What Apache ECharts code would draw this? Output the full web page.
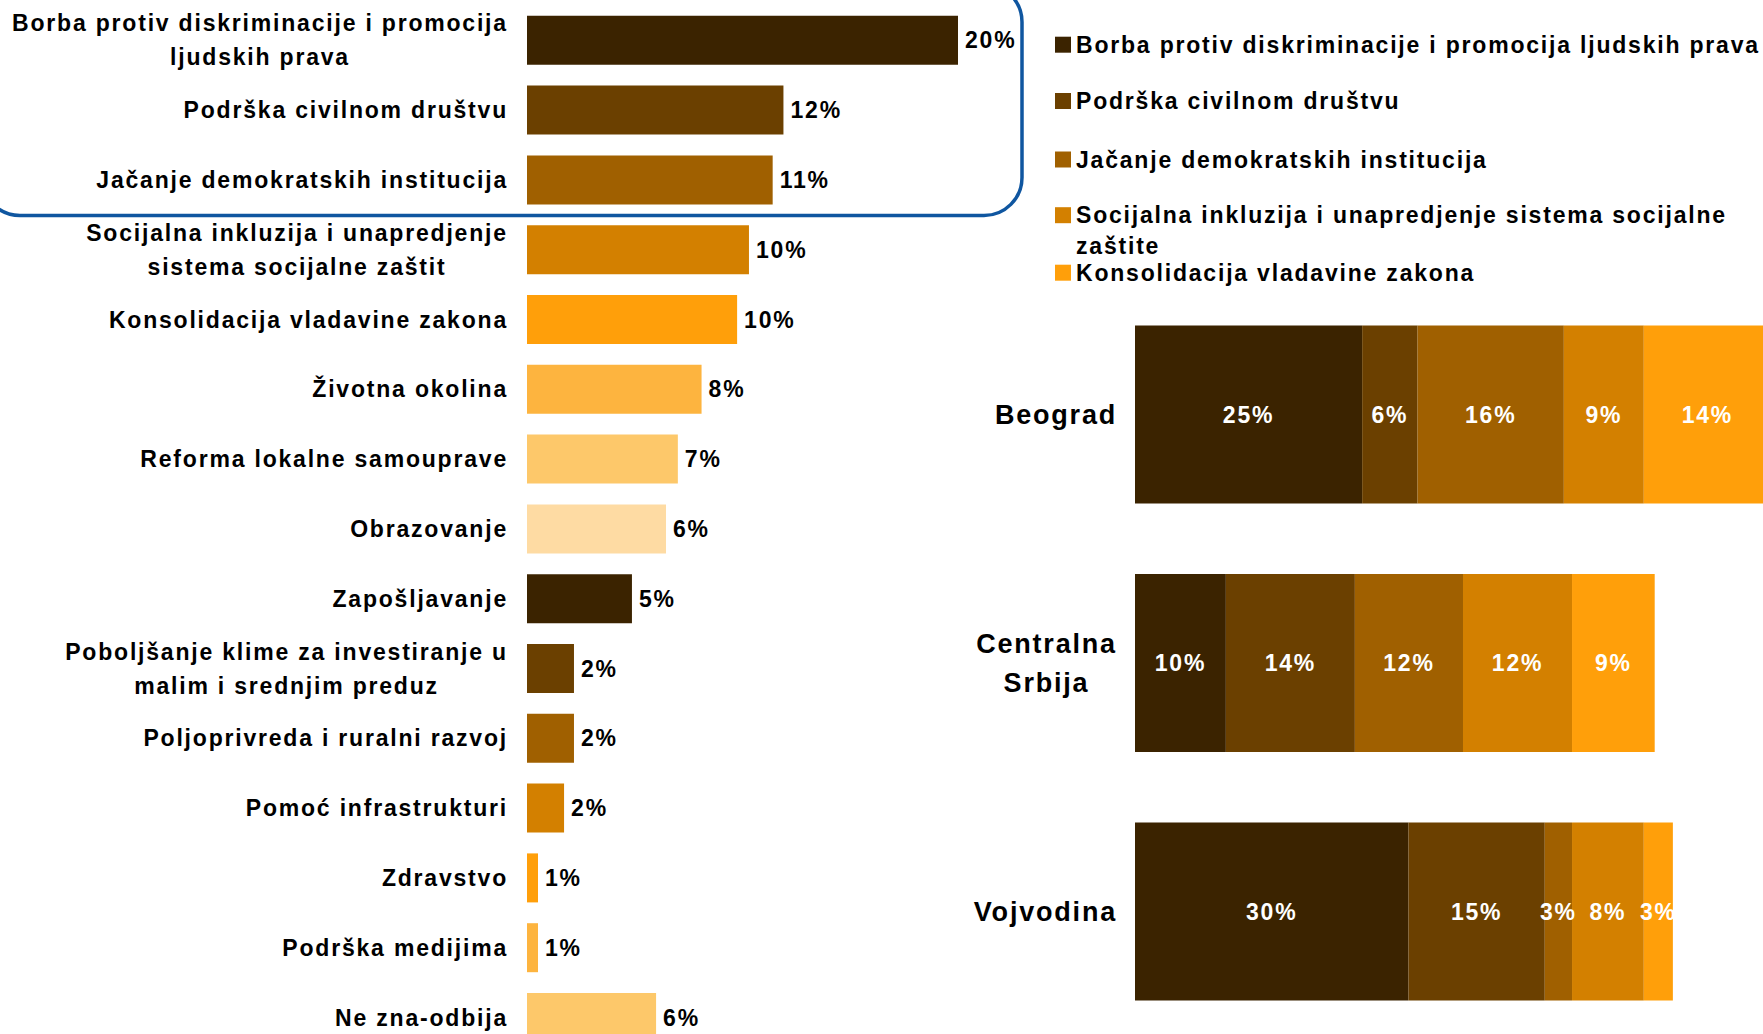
<!DOCTYPE html>
<html>
<head>
<meta charset="utf-8">
<title>Prioriteti</title>
<script src="https://cdn.jsdelivr.net/npm/echarts@6/dist/echarts.min.js"></script>
<style>
  html, body { margin: 0; padding: 0; background: #fff; }
  #main { width: 1763px; height: 1034px; }
  /* razmak izmedju slova kao na originalu */
  #main svg text { letter-spacing: 1.8px; }
</style>
</head>
<body>
<div id="main"></div>
<script>
// lijevi grafikon - oblasti i udio
var oblasti = [
  'Borba protiv diskriminacije i promocija\nljudskih prava',
  'Podrška civilnom društvu',
  'Jačanje demokratskih institucija',
  'Socijalna inkluzija i unapredjenje\nsistema socijalne zaštit',
  'Konsolidacija vladavine zakona',
  'Životna okolina',
  'Reforma lokalne samouprave',
  'Obrazovanje',
  'Zapošljavanje',
  'Poboljšanje klime za investiranje u\nmalim i srednjim preduz',
  'Poljoprivreda i ruralni razvoj',
  'Pomoć infrastrukturi',
  'Zdravstvo',
  'Podrška medijima',
  'Ne zna-odbija'
];
var udeo = [20.0, 11.9, 11.4, 10.3, 9.75, 8.1, 7.0, 6.45, 4.87, 2.18, 2.18, 1.72, 0.51, 0.51, 5.99];

// desni grafikon - regioni
var regioni = ['Beograd', 'Centralna\nSrbija', 'Vojvodina'];
var prioriteti = [
  'Borba protiv diskriminacije i promocija ljudskih prava',
  'Podrška civilnom društvu',
  'Jačanje demokratskih institucija',
  'Socijalna inkluzija i unapredjenje sistema socijalne zaštite',
  'Konsolidacija vladavine zakona'
];
var borba = [25.0, 10.0, 30.1];
var civilno = [6.1, 14.2, 15.0];
var institucije = [16.1, 11.9, 3.0];
var inkluzija = [8.8, 12.0, 7.9];
var vladavina = [14.0, 9.1, 3.2];

var boje = ['#3B2300', '#6B4000', '#A06000', '#D38000', '#FF9F0A', '#FDB43F', '#FDC86A', '#FEDBA3'];
var FONT = '"Liberation Sans", Arial, sans-serif';
var LS = 1.8;

var mctx = document.createElement('canvas').getContext('2d');
function sirina(txt, size) {
  mctx.font = 'bold ' + size + 'px ' + FONT;
  return Math.ceil(mctx.measureText(txt).width + txt.length * LS);
}
// redovi u dvoredim natpisima centrirani jedan ispod drugog
function centriraj(lista, size, lh, prefix) {
  var rich = {}, fmt = {};
  lista.forEach(function (txt, i) {
    if (txt.indexOf('\n') < 0) return;
    var lines = txt.split('\n');
    var w = Math.max.apply(null, lines.map(function (l) { return sirina(l, size); }));
    rich[prefix + i] = { width: w, align: 'center', fontSize: size, fontWeight: 'bold', fontFamily: FONT, lineHeight: lh, color: '#000' };
    fmt[txt] = lines.map(function (l) { return '{' + prefix + i + '|' + l + '}'; }).join('\n');
  });
  return { rich: rich, fmt: fmt };
}
var lijevo = centriraj(oblasti, 23, 34, 'l');
var desno = centriraj(regioni, 27, 39, 'd');

var chart = echarts.init(document.getElementById('main'), null, { renderer: 'svg' });

var centri = [44.7, 101, 159.5, 215.7, 272.7];
var legende = prioriteti.map(function (p, i) {
  var ts = { fontSize: 23, fontWeight: 'bold', fontFamily: FONT, color: '#000', lineHeight: 16 };
  var top = centri[i] - 11.5;
  if (i === 3) {
    // prazan prvi red da kvadratic stoji uz prvi red teksta
    ts.lineHeight = 31;
    top = centri[i] - 8 - 39;
  }
  return {
    data: [p],
    left: 1055,
    top: top,
    padding: 0,
    icon: 'rect',
    itemWidth: 16,
    itemHeight: 16,
    selectedMode: false,
    formatter: function (name) {
      return name === prioriteti[3] ? ' \nSocijalna inkluzija i unapredjenje sistema socijalne\nzaštite' : name;
    },
    textStyle: ts
  };
});

var serijeDesno = [borba, civilno, institucije, inkluzija, vladavina].map(function (d, i) {
  return {
    name: prioriteti[i],
    type: 'bar',
    stack: 'region',
    xAxisIndex: 1,
    yAxisIndex: 1,
    barWidth: 178,
    data: d,
    itemStyle: { color: boje[i] },
    label: {
      show: true,
      position: 'inside',
      color: '#fff',
      fontSize: 23,
      fontWeight: 'bold',
      fontFamily: FONT,
      formatter: function (p) { return Math.round(p.value) + '%'; }
    }
  };
});

chart.setOption({
  backgroundColor: '#fff',
  animation: false,
  legend: legende,
  grid: [
    { left: 527, top: 5.4, width: 431, height: 1047, outerBoundsMode: 'none' },
    { left: 1135, top: 290.25, width: 636, height: 745.5, outerBoundsMode: 'none' }
  ],
  xAxis: [
    { type: 'value', gridIndex: 0, min: 0, max: 20, show: false, splitLine: { show: false } },
    { type: 'value', gridIndex: 1, min: 0, max: 70, show: false, splitLine: { show: false } }
  ],
  yAxis: [
    {
      type: 'category', gridIndex: 0, data: oblasti, inverse: true,
      axisLine: { show: false }, axisTick: { show: false },
      axisLabel: {
        interval: 0, margin: 19, fontSize: 23, fontWeight: 'bold', fontFamily: FONT,
        color: '#000', lineHeight: 34,
        formatter: function (v) { return lijevo.fmt[v] || v; },
        rich: lijevo.rich
      }
    },
    {
      type: 'category', gridIndex: 1, data: regioni, inverse: true,
      axisLine: { show: false }, axisTick: { show: false },
      axisLabel: {
        interval: 0, margin: 18, fontSize: 27, fontWeight: 'bold', fontFamily: FONT,
        color: '#000', lineHeight: 39,
        formatter: function (v) { return desno.fmt[v] || v; },
        rich: desno.rich
      }
    }
  ],
  graphic: [{
    type: 'rect',
    z: 0,
    silent: true,
    shape: { x: -18, y: -16, width: 1040, height: 231.5, r: 38 },
    style: { fill: 'none', stroke: '#0F56A0', lineWidth: 3.5 }
  }],
  series: [{
    name: 'Ukupno',
    type: 'bar',
    xAxisIndex: 0,
    yAxisIndex: 0,
    barWidth: 49,
    data: udeo,
    itemStyle: {
      color: function (p) { return boje[p.dataIndex % boje.length]; }
    },
    label: {
      show: true,
      position: 'right',
      distance: 7,
      color: '#000',
      fontSize: 23,
      fontWeight: 'bold',
      fontFamily: FONT,
      formatter: function (p) { return Math.round(p.value) + '%'; }
    }
  }].concat(serijeDesno)
});
</script>
</body>
</html>
